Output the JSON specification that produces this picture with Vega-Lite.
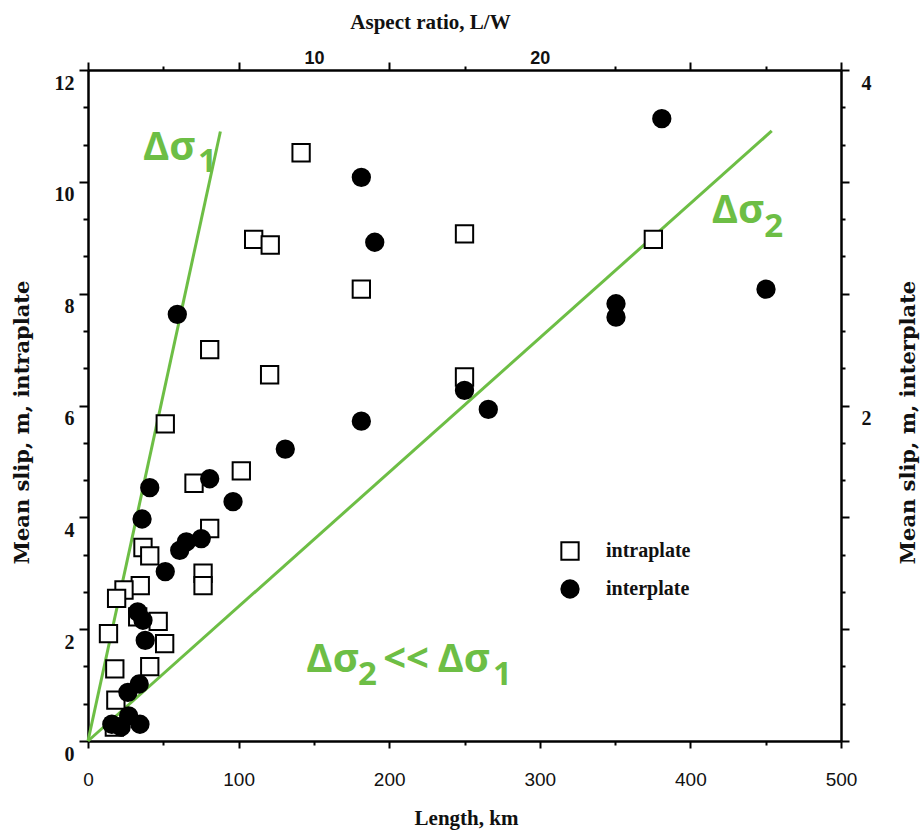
{
  "$schema": "https://vega.github.io/schema/vega-lite/v6.json",
  "width": 753,
  "height": 671,
  "autosize": {"type": "none"},
  "padding": {"left": 88, "top": 70, "right": 83, "bottom": 91},
  "background": "white",
  "config": {"view": {"stroke": null}},
  "datasets": {
    "quakes": [
      {"L": 141.5, "slip": 10.52, "type": "intraplate"},
      {"L": 110, "slip": 8.97, "type": "intraplate"},
      {"L": 121, "slip": 8.87, "type": "intraplate"},
      {"L": 250, "slip": 9.07, "type": "intraplate"},
      {"L": 375.4, "slip": 8.97, "type": "intraplate"},
      {"L": 181.5, "slip": 8.08, "type": "intraplate"},
      {"L": 80.8, "slip": 7.0, "type": "intraplate"},
      {"L": 120.6, "slip": 6.55, "type": "intraplate"},
      {"L": 250, "slip": 6.51, "type": "intraplate"},
      {"L": 51.3, "slip": 5.67, "type": "intraplate"},
      {"L": 101.8, "slip": 4.83, "type": "intraplate"},
      {"L": 70.4, "slip": 4.61, "type": "intraplate"},
      {"L": 80.8, "slip": 3.8, "type": "intraplate"},
      {"L": 36.5, "slip": 3.46, "type": "intraplate"},
      {"L": 41, "slip": 3.31, "type": "intraplate"},
      {"L": 76.4, "slip": 3.0, "type": "intraplate"},
      {"L": 76.4, "slip": 2.78, "type": "intraplate"},
      {"L": 34.7, "slip": 2.78, "type": "intraplate"},
      {"L": 23.9, "slip": 2.7, "type": "intraplate"},
      {"L": 19, "slip": 2.55, "type": "intraplate"},
      {"L": 33, "slip": 2.22, "type": "intraplate"},
      {"L": 46.6, "slip": 2.14, "type": "intraplate"},
      {"L": 13.6, "slip": 1.92, "type": "intraplate"},
      {"L": 50.9, "slip": 1.74, "type": "intraplate"},
      {"L": 17.8, "slip": 1.29, "type": "intraplate"},
      {"L": 41, "slip": 1.33, "type": "intraplate"},
      {"L": 18.5, "slip": 0.73, "type": "intraplate"},
      {"L": 17.5, "slip": 0.25, "type": "intraplate"},
      {"L": 381, "slip": 11.13, "type": "interplate"},
      {"L": 181.5, "slip": 10.08, "type": "interplate"},
      {"L": 190.4, "slip": 8.92, "type": "interplate"},
      {"L": 59.3, "slip": 7.63, "type": "interplate"},
      {"L": 450.2, "slip": 8.08, "type": "interplate"},
      {"L": 350.6, "slip": 7.82, "type": "interplate"},
      {"L": 350.6, "slip": 7.58, "type": "interplate"},
      {"L": 250, "slip": 6.27, "type": "interplate"},
      {"L": 265.8, "slip": 5.93, "type": "interplate"},
      {"L": 181.5, "slip": 5.72, "type": "interplate"},
      {"L": 131, "slip": 5.22, "type": "interplate"},
      {"L": 41, "slip": 4.53, "type": "interplate"},
      {"L": 80.8, "slip": 4.69, "type": "interplate"},
      {"L": 96.3, "slip": 4.28, "type": "interplate"},
      {"L": 35.9, "slip": 3.97, "type": "interplate"},
      {"L": 75.2, "slip": 3.62, "type": "interplate"},
      {"L": 65.3, "slip": 3.56, "type": "interplate"},
      {"L": 60.9, "slip": 3.41, "type": "interplate"},
      {"L": 51.3, "slip": 3.03, "type": "interplate"},
      {"L": 33, "slip": 2.31, "type": "interplate"},
      {"L": 36.5, "slip": 2.16, "type": "interplate"},
      {"L": 38, "slip": 1.8, "type": "interplate"},
      {"L": 34, "slip": 1.02, "type": "interplate"},
      {"L": 26.5, "slip": 0.87, "type": "interplate"},
      {"L": 15.8, "slip": 0.3, "type": "interplate"},
      {"L": 27, "slip": 0.45, "type": "interplate"},
      {"L": 34.5, "slip": 0.3, "type": "interplate"},
      {"L": 22, "slip": 0.25, "type": "interplate"}
    ],
    "lines": [
      {"line": "s1", "L": 0, "slip": 0},
      {"line": "s1", "L": 87.9, "slip": 10.9},
      {"line": "s2", "L": 0, "slip": 0},
      {"line": "s2", "L": 454, "slip": 10.91}
    ],
    "notes": [
      {"L": 36.5, "slip": 10.39, "label": "Δσ", "role": "main"},
      {"L": 73, "slip": 10.17, "label": "1", "role": "sub"},
      {"L": 414.1, "slip": 9.26, "label": "Δσ", "role": "main"},
      {"L": 449, "slip": 9.02, "label": "2", "role": "sub"},
      {"L": 145, "slip": 1.24, "label": "Δσ", "role": "main"},
      {"L": 179.3, "slip": 1.0, "label": "2", "role": "sub"},
      {"L": 196, "slip": 1.24, "label": "<<", "role": "main"},
      {"L": 232, "slip": 1.24, "label": "Δσ", "role": "main"},
      {"L": 269, "slip": 1.0, "label": "1", "role": "sub"}
    ]
  },
  "layer": [
    {
      "data": {"name": "lines"},
      "mark": {"type": "line", "color": "#6DBE45", "strokeWidth": 3},
      "encoding": {
        "x": {
          "field": "L", "type": "quantitative",
          "scale": {"domain": [0, 500], "nice": false, "zero": true},
          "axis": {
            "orient": "bottom",
            "title": "Length, km",
            "values": [0, 50, 100, 150, 200, 250, 300, 350, 400, 450, 500],
            "labelExpr": "datum.value % 100 == 0 ? datum.label : ''",
            "grid": false,
            "domainColor": "black", "domainWidth": 2.5,
            "tickColor": "black", "tickWidth": 2,
            "tickSize": {"condition": {"test": "datum.value % 100 == 0", "value": 7}, "value": 4},
            "labelPadding": 22,
            "labelFont": "Liberation Sans", "labelFontSize": 19, "labelColor": "#111",
            "labelFlush": false,
            "titleFont": "Liberation Serif", "titleFontSize": 21, "titleFontWeight": "bold", "titleColor": "#111",
            "titleX": 378, "titleY": 77, "titleBaseline": "middle"
          }
        },
        "y": {
          "field": "slip", "type": "quantitative",
          "scale": {"domain": [0, 12], "nice": false, "zero": true},
          "axis": {
            "orient": "left",
            "title": "Mean slip,  m, intraplate",
            "values": [0, 0.6667, 1.3333, 2, 2.6667, 3.3333, 4, 4.6667, 5.3333, 6, 6.6667, 7.3333, 8, 8.6667, 9.3333, 10, 10.6667, 11.3333, 12],
            "labelExpr": "abs(datum.value - round(datum.value/2)*2) < 0.01 ? '' + round(datum.value) : ''",
            "grid": false,
            "domainColor": "black", "domainWidth": 2.5,
            "tickColor": "black", "tickWidth": 2,
            "tickSize": {"condition": {"test": "abs(datum.value - round(datum.value/2)*2) < 0.01", "value": 9}, "value": 5},
            "labelPadding": 5, "labelOffset": 13,
            "labelFont": "Liberation Serif", "labelFontSize": 20, "labelFontWeight": "bold", "labelColor": "#111",
            "labelFlush": false,
            "titleFont": "DejaVu Serif", "titleFontSize": 21, "titleFontWeight": "bold", "titleColor": "#111",
            "titleX": -66, "titleY": 352, "titleBaseline": "middle", "titleAlign": "center", "titleAngle": 270
          }
        },
        "detail": {"field": "line", "type": "nominal"}
      }
    },
    {
      "data": {"name": "quakes"},
      "mark": {"type": "point", "filled": true, "strokeWidth": 2, "size": 300, "opacity": 1},
      "encoding": {
        "x": {
          "field": "L", "type": "quantitative",
          "axis": {
            "orient": "top",
            "title": "Aspect ratio, L/W",
            "values": [0, 50, 100, 150, 200, 250, 300, 350, 400, 450, 500],
            "labelExpr": "datum.value == 150 ? '10' : datum.value == 300 ? '20' : ''",
            "grid": false,
            "domainColor": "black", "domainWidth": 2.5,
            "tickColor": "black", "tickWidth": 2,
            "tickSize": {"condition": [{"test": "datum.value == 150 || datum.value == 300", "value": 0}, {"test": "datum.value % 100 == 0", "value": 8}], "value": 4},
            "labelPadding": 3,
            "labelFont": "Liberation Sans", "labelFontSize": 18, "labelFontWeight": "bold", "labelColor": "#111",
            "labelFlush": false,
            "titleFont": "Liberation Serif", "titleFontSize": 21, "titleFontWeight": "bold", "titleColor": "#111",
            "titleX": 342, "titleY": -48, "titleBaseline": "middle", "titleAlign": "center"
          }
        },
        "y": {
          "field": "slip", "type": "quantitative",
          "axis": {
            "orient": "right",
            "title": "Mean slip, m, interplate",
            "values": [0, 0.6667, 1.3333, 2, 2.6667, 3.3333, 4, 4.6667, 5.3333, 6, 6.6667, 7.3333, 8, 8.6667, 9.3333, 10, 10.6667, 11.3333, 12],
            "labelExpr": "abs(datum.value - 6) < 0.01 ? '2' : abs(datum.value - 12) < 0.01 ? '4' : ''",
            "grid": false,
            "domainColor": "black", "domainWidth": 2.5,
            "tickColor": "black", "tickWidth": 2,
            "tickSize": {"condition": {"test": "abs(datum.value - round(datum.value/2)*2) < 0.01", "value": 8}, "value": 4},
            "labelPadding": 12, "labelOffset": 13,
            "labelFont": "Liberation Serif", "labelFontSize": 20, "labelFontWeight": "bold", "labelColor": "#111",
            "labelFlush": false,
            "titleFont": "DejaVu Serif", "titleFontSize": 21, "titleFontWeight": "bold", "titleColor": "#111",
            "titleX": 67, "titleY": 352, "titleBaseline": "middle", "titleAlign": "center", "titleAngle": 270
          }
        },
        "shape": {
          "field": "type", "type": "nominal",
          "scale": {"domain": ["intraplate", "interplate"], "range": ["square", "circle"]},
          "legend": {
            "title": null, "orient": "none", "legendX": 472, "legendY": 471,
            "padding": 0, "rowPadding": 12, "symbolSize": 300, "symbolStrokeWidth": 2,
            "labelOffset": 26,
            "labelFont": "Liberation Serif", "labelFontSize": 20, "labelFontWeight": "bold", "labelColor": "#111"
          }
        },
        "fill": {
          "field": "type", "type": "nominal",
          "scale": {"domain": ["intraplate", "interplate"], "range": ["white", "black"]},
          "legend": {
            "title": null, "orient": "none", "legendX": 472, "legendY": 471,
            "padding": 0, "rowPadding": 12, "symbolSize": 300, "symbolStrokeWidth": 2,
            "labelOffset": 26,
            "labelFont": "Liberation Serif", "labelFontSize": 20, "labelFontWeight": "bold", "labelColor": "#111"
          }
        },
        "stroke": {
          "field": "type", "type": "nominal",
          "scale": {"domain": ["intraplate", "interplate"], "range": ["black", "black"]},
          "legend": {
            "title": null, "orient": "none", "legendX": 472, "legendY": 471,
            "padding": 0, "rowPadding": 12, "symbolSize": 300, "symbolStrokeWidth": 2,
            "labelOffset": 26,
            "labelFont": "Liberation Serif", "labelFontSize": 20, "labelFontWeight": "bold", "labelColor": "#111"
          }
        }
      }
    },
    {
      "data": {"name": "notes"},
      "transform": [{"filter": "datum.role == 'main'"}],
      "mark": {"type": "text", "align": "left", "baseline": "alphabetic", "font": "Open Sans", "fontWeight": "bold", "fontSize": 40, "color": "#6DBE45"},
      "encoding": {
        "x": {"field": "L", "type": "quantitative", "axis": null},
        "y": {"field": "slip", "type": "quantitative", "axis": null},
        "text": {"field": "label"}
      }
    },
    {
      "data": {"name": "notes"},
      "transform": [{"filter": "datum.role == 'sub'"}],
      "mark": {"type": "text", "align": "left", "baseline": "alphabetic", "font": "Open Sans", "fontWeight": "bold", "fontSize": 33, "color": "#6DBE45"},
      "encoding": {
        "x": {"field": "L", "type": "quantitative", "axis": null},
        "y": {"field": "slip", "type": "quantitative", "axis": null},
        "text": {"field": "label"}
      }
    }
  ],
  "resolve": {"axis": {"x": "independent", "y": "independent"}}
}
